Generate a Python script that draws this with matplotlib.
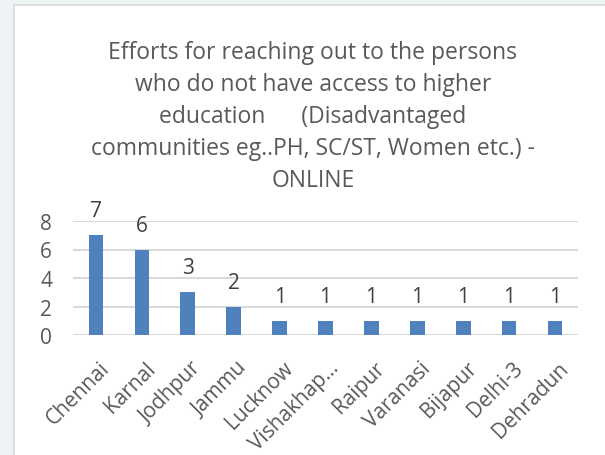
import matplotlib
matplotlib.use("Agg")
import matplotlib.pyplot as plt
import matplotlib.transforms as mtransforms
from matplotlib.patches import Rectangle

plt.rcParams['font.family'] = ['Open Sans', 'DejaVu Sans']

# data
centres = ["Chennai", "Karnal", "Jodhpur", "Jammu", "Lucknow", "Vishakhap...",
           "Raipur", "Varanasi", "Bijapur", "Delhi-3", "Dehradun"]
counts = [7, 6, 3, 2, 1, 1, 1, 1, 1, 1, 1]
yticks = [0, 2, 4, 6, 8]
title = ("Efforts for reaching out to the persons\n"
         "who do not have access to higher\n"
         "education      (Disadvantaged\n"
         "communities eg..PH, SC/ST, Women etc.) -\n"
         "ONLINE")

W, H = 605, 456
fig = plt.figure(figsize=(W / 100, H / 100), dpi=100)
fig.patch.set_facecolor("#eef3f6")

# chart area box (white with light grey border)
fig.patches.append(Rectangle((14 / W, -0.05), 1.1, (H - 6) / H + 0.05,
                             transform=fig.transFigure, facecolor="white",
                             edgecolor="#d9d9d9", linewidth=1.2, zorder=-5))

ax = fig.add_axes([73 / W, (H - 336) / H, (578 - 73) / W, (336 - 222) / H])
ax.set_zorder(2)
ax.set_facecolor("none")
ax.bar(range(len(centres)), counts, width=0.32, color="#4F81BD", zorder=3)
ax.set_xlim(-0.5, len(centres) - 0.5)
ax.set_ylim(0, 8)
ax.set_yticks(yticks)
ax.yaxis.grid(True, color="#d9d9d9", linewidth=1.5, zorder=0)
for s in ax.spines.values():
    s.set_visible(False)
ax.tick_params(length=0, labelsize=15, colors="#595959")
ax.tick_params(axis="y", pad=15)
ax.set_xticks(range(len(centres)))
ax.set_xticklabels(centres, rotation=45, ha="right", va="top",
                   rotation_mode="anchor")
ax.tick_params(axis="x", pad=16)
shift = mtransforms.ScaledTranslation(3 / 100, 0, fig.dpi_scale_trans)
for lab in ax.get_xticklabels():
    lab.set_transform(lab.get_transform() + shift)

for i, v in enumerate(counts):
    ax.annotate(str(v), (i, v), xytext=(0, 10), textcoords="offset points",
                ha="center", va="bottom", fontsize=15, color="#404040")

fig.text(313 / W, 1 - 41 / H, title, ha="center", va="top", fontsize=16.5,
         color="#595959", linespacing=1.45, zorder=3)

fig.savefig("out.png", dpi=100, facecolor=fig.get_facecolor())
